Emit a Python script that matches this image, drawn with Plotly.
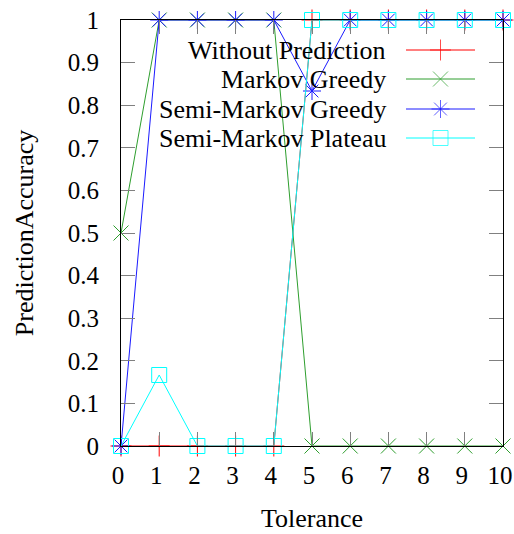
import plotly.graph_objects as go

# Tolerance values and prediction accuracy per method
tolerance = [0, 1, 2, 3, 4, 5, 6, 7, 8, 9, 10]
without_prediction = [0, 0, 0, 0, 0, 1, 1, 1, 1, 1, 1]
markov_greedy = [0.5, 1, 1, 1, 1, 0, 0, 0, 0, 0, 0]
semi_markov_greedy = [0, 1, 1, 1, 1, 0.8333, 1, 1, 1, 1, 1]
semi_markov_plateau = [0, 0.1667, 0, 0, 0, 1, 1, 1, 1, 1, 1]
y_ticks = [0, 0.1, 0.2, 0.3, 0.4, 0.5, 0.6, 0.7, 0.8, 0.9, 1]
y_tick_text = ["0", "0.1", "0.2", "0.3", "0.4", "0.5", "0.6", "0.7", "0.8", "0.9", "1"]

series = [
    ("Without Prediction", without_prediction, "#ff0000", "cross-thin-open"),
    ("Markov Greedy", markov_greedy, "#2e9e2e", "x-thin-open"),
    ("Semi-Markov Greedy", semi_markov_greedy, "#1a1aff", "asterisk-open"),
    ("Semi-Markov Plateau", semi_markov_plateau, "#00ffff", "square-open"),
]

FONT = "Liberation Serif, Times New Roman, serif"
FS = 26
TICK_FS = 25
W, H = 514, 534
ML, MR, MT, MB = 121, 11, 20, 88
PW, PH = W - ML - MR, H - MT - MB

fig = go.Figure()
for name, vals, color, sym in series:
    fig.add_trace(go.Scatter(
        x=tolerance, y=vals, name=name, mode="lines+markers",
        line=dict(color=color, width=1),
        marker=dict(symbol=sym, size=15, color=color, line=dict(color=color, width=1)),
        cliponaxis=False, showlegend=False,
    ))

# key in the upper right: right-aligned label followed by a line sample
key_text_x = 388
key_line = (406, 475)
key_rows = [50, 79, 109, 138]

def px_to_x(px):
    return (px - ML) / PW * 10

def px_to_y(py):
    return (H - MB - py) / PH

annotations = []
for (name, vals, color, sym), row in zip(series, key_rows):
    yv = px_to_y(row)
    x0, x1 = px_to_x(key_line[0]), px_to_x(key_line[1])
    fig.add_trace(go.Scatter(
        x=[x0, (x0 + x1) / 2, x1], y=[yv, yv, yv], mode="lines+markers",
        line=dict(color=color, width=1),
        marker=dict(symbol=sym, size=[0, 15, 0], color=color, line=dict(color=color, width=1)),
        cliponaxis=False, showlegend=False, hoverinfo="skip",
    ))
    annotations.append(dict(
        x=(key_text_x - ML) / PW, y=yv, xref="paper", yref="paper",
        text=name, showarrow=False, xanchor="right", yanchor="middle",
        font=dict(family=FONT, size=FS, color="black"),
    ))

axis_common = dict(
    showgrid=False, zeroline=False, showline=True, linecolor="black", linewidth=1,
    mirror="allticks", ticks="inside", ticklen=14, tickcolor="#808080", tickwidth=1,
    tickfont=dict(family=FONT, size=TICK_FS, color="black"), ticklabeloverflow="allow",
    automargin=False,
)

fig.update_layout(
    width=W, height=H,
    margin=dict(l=ML, r=MR, t=MT, b=MB, autoexpand=False),
    plot_bgcolor="white", paper_bgcolor="white",
    annotations=annotations,
    xaxis=dict(
        range=[0, 10], tickvals=tolerance, ticklabelstandoff=7, ticklabelshift=-3,
        title=dict(text="Tolerance", font=dict(family=FONT, size=FS, color="black"), standoff=20),
        **axis_common,
    ),
    yaxis=dict(
        range=[0, 1], tickvals=y_ticks, ticktext=y_tick_text, ticklabelstandoff=16,
        title=dict(text="PredictionAccuracy", font=dict(family=FONT, size=FS, color="black"), standoff=26),
        **axis_common,
    ),
)

fig.write_html("out.html")
